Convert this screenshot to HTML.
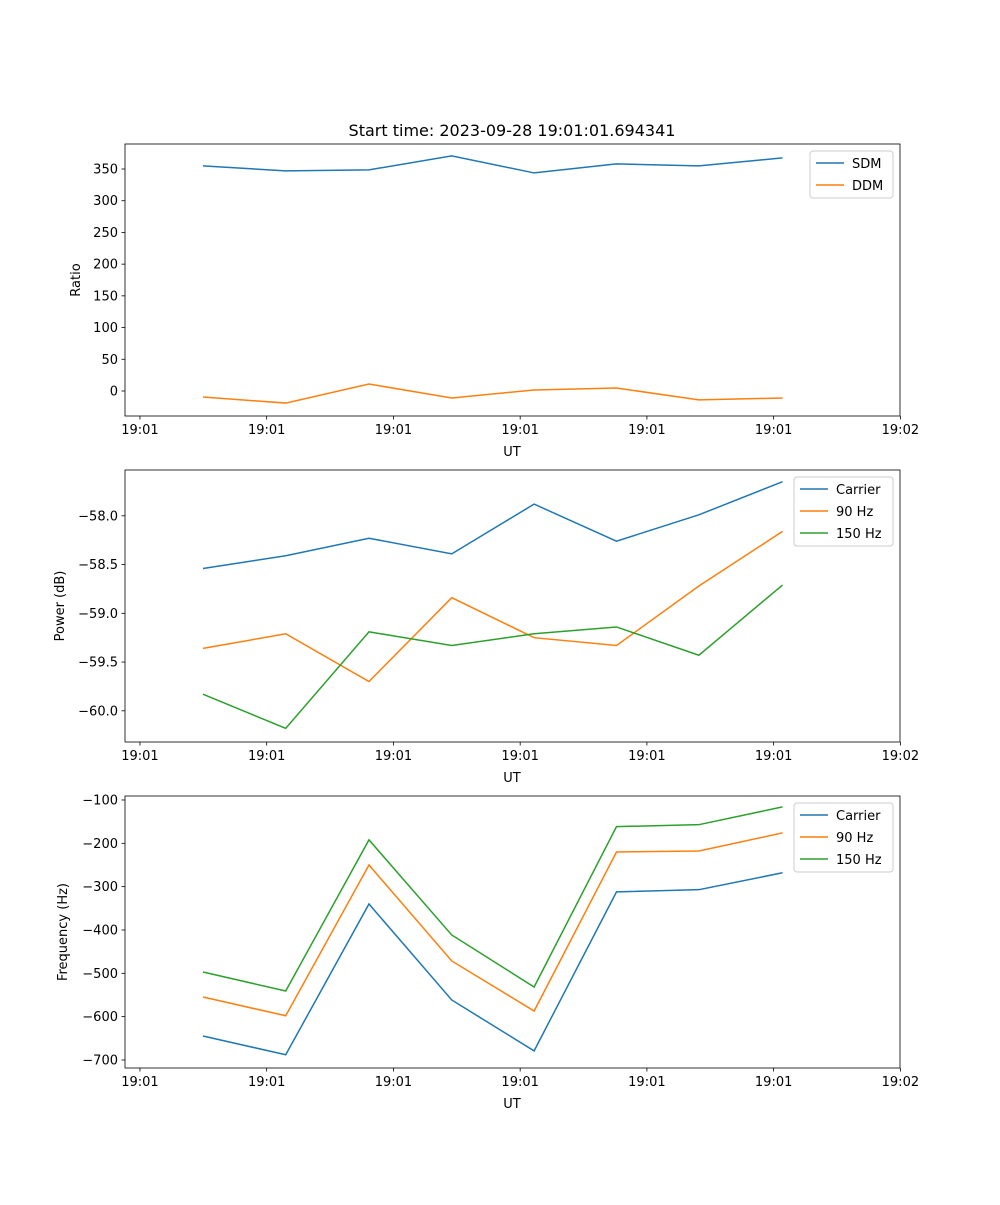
<!DOCTYPE html>
<html><head><meta charset="utf-8"><style>
body{margin:0;background:#fff}
svg text{font-family:"DejaVu Sans","Liberation Sans",sans-serif;fill:#000}
</style></head><body>
<svg id="fig" width="1000" height="1200" xmlns="http://www.w3.org/2000/svg"></svg>
<script>
const times=[4.97,11.5,18.07,24.6,31.1,37.6,44.1,50.7];
const xTickLabels=["19:01","19:01","19:01","19:01","19:01","19:01","19:02"];
const xTickValues=[0,10,20,30,40,50,60];
const sdm=[355,347,348.6,370.7,343.8,358,355,367.5];
const ddm=[-9.5,-19,11,-11,1.6,4.7,-14,-11];
const powCarrier=[-58.54,-58.41,-58.23,-58.39,-57.88,-58.26,-57.99,-57.65];
const pow90=[-59.36,-59.21,-59.70,-58.84,-59.25,-59.33,-58.72,-58.16];
const pow150=[-59.83,-60.18,-59.19,-59.33,-59.21,-59.14,-59.43,-58.71];
const frqCarrier=[-644.6,-688,-340,-561.5,-679,-312,-307,-268];
const frq90=[-554.6,-598,-250,-471.5,-587,-220,-217.7,-176];
const frq150=[-496.9,-540.8,-192,-411.5,-531.6,-161.5,-157,-116];
const yTicks1=[0,50,100,150,200,250,300,350];
const yTicks2=[-60.0,-59.5,-59.0,-58.5,-58.0];
const yTicks3=[-700,-600,-500,-400,-300,-200,-100];
const C=["#1f77b4","#ff7f0e","#2ca02c"];
const svg=document.getElementById('fig');
const NS="http://www.w3.org/2000/svg";
function mk(t,a,p){const e=document.createElementNS(NS,t);for(const k in a)e.setAttribute(k,a[k]);(p||svg).appendChild(e);return e;}
const X0=125,X1=900,XMIN=-1.18,XMAX=59.97;
function xs(v){return X0+(v-XMIN)/(XMAX-XMIN)*(X1-X0);}
function panel(name,top,ymin,ymax,yt,fmt,ylabel,series,names,legW){
  const bot=top+272;
  const g=mk('g',{});
  
  
  const ys=v=>bot-(v-ymin)/(ymax-ymin)*272;
  series.forEach((s,i)=>{
    const p=mk('polyline',{points:s.map((v,j)=>xs(times[j])+','+ys(v)).join(' '),fill:'none',stroke:C[i],'stroke-width':1.5},g);
    
    
  });
  mk('rect',{x:X0,y:top,width:X1-X0,height:272,fill:'none',stroke:'#000','stroke-width':0.8},g);
  xTickValues.forEach((v,i)=>{const x=xs(v);mk('line',{x1:x,x2:x,y1:bot,y2:bot+3.5,stroke:'#000','stroke-width':0.8},g);
    const t=mk('text',{x:x,y:bot+18,'font-size':13,'text-anchor':'middle'},g);t.textContent=xTickLabels[i];
    });
  yt.forEach(v=>{const y=ys(v);mk('line',{x1:X0-3.5,x2:X0,y1:y,y2:y,stroke:'#000','stroke-width':0.8},g);
    const t=mk('text',{x:X0-7,y:y+4.5,'font-size':13,'text-anchor':'end'},g);t.textContent=fmt(v);
    });
  const xl=mk('text',{x:512,y:bot+40,'font-size':13,'text-anchor':'middle'},g);xl.textContent='UT';
  
  const lx=ylabel.x;
  const yl=mk('text',{x:lx,y:top+136,'font-size':13,'text-anchor':'middle',transform:`rotate(-90 ${lx} ${top+136})`},g);yl.textContent=ylabel.t;
  
  const lg=mk('g',{},g);
  
  const lx0=893-legW;
  mk('rect',{x:lx0,y:top+7,width:legW,height:names.length*22+3,rx:3,fill:'#fff',stroke:'#ccc'},lg);
  names.forEach((n,i)=>{const y=top+19+i*22;mk('line',{x1:lx0+6,x2:lx0+34,y1:y,y2:y,stroke:C[i],'stroke-width':1.5},lg);
    const t=mk('text',{x:lx0+42,y:y+5,'font-size':13},lg);t.textContent=n;
    });
}
const tt=mk('text',{x:512,y:136,'font-size':16,'text-anchor':'middle'});tt.textContent='Start time: 2023-09-28 19:01:01.694341';

panel('ratio-panel',144,-39.4,389.4,yTicks1,v=>String(v),{x:80,t:'Ratio'},[sdm,ddm],['SDM','DDM'],83);
panel('power-panel',470,-60.32,-57.53,yTicks2,v=>'\u2212'+Math.abs(v).toFixed(1),{x:64,t:'Power (dB)'},[powCarrier,pow90,pow150],['Carrier','90 Hz','150 Hz'],99);
panel('frequency-panel',796,-718.5,-90.8,yTicks3,v=>'\u2212'+Math.abs(v),{x:67,t:'Frequency (Hz)'},[frqCarrier,frq90,frq150],['Carrier','90 Hz','150 Hz'],99);
</script>
</body></html>
